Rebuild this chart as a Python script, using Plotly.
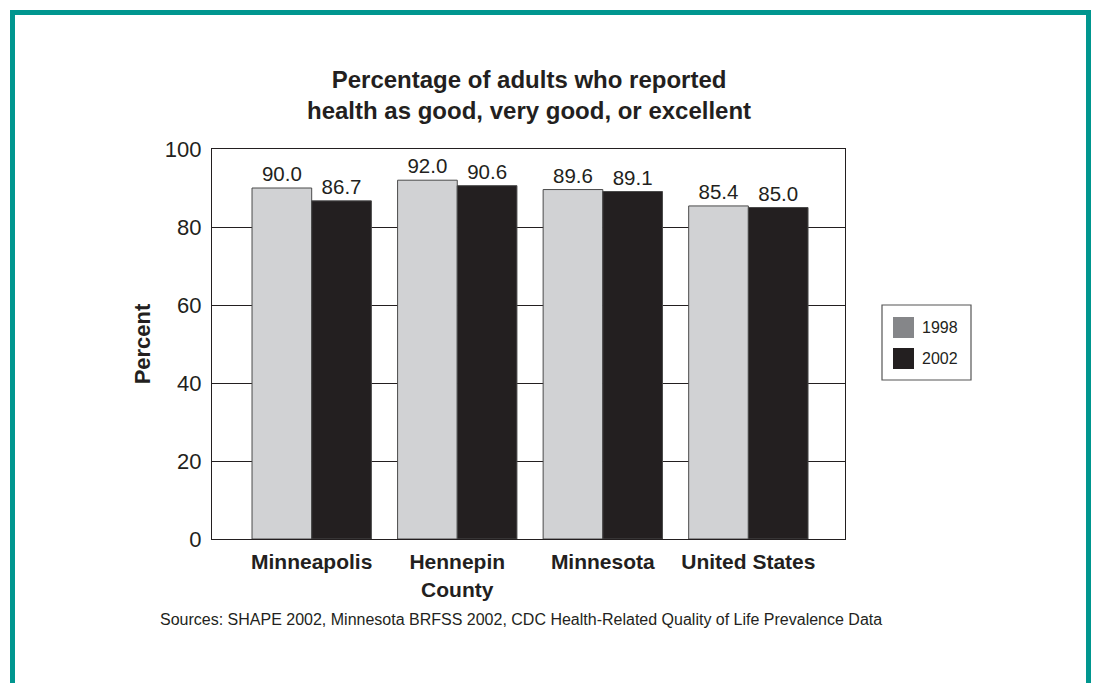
import plotly.graph_objects as go

categories = ["Minneapolis", "Hennepin<br>County", "Minnesota", "United States"]
years = ["1998", "2002"]
values_1998 = [90.0, 92.0, 89.6, 85.4]
values_2002 = [86.7, 90.6, 89.1, 85.0]
y_ticks = [0, 20, 40, 60, 80, 100]

bar_colors = {"1998": "#d1d2d4", "2002": "#231f20"}
legend_colors = {"1998": "#858689", "2002": "#231f20"}
FONT = "Liberation Sans"
INK = "#231f20"

W, H = 1099, 683
OFF = 8  # page body margin offset (screen = figure + OFF)
L, R, T, B = 212 - OFF, 845 - OFF, 149 - OFF, 539 - OFF
PW, PH = R - L, B - T


def px(x):
    return (x - OFF - L) / PW


def py(y):
    return (B - (y - OFF)) / PH


xpos = list(range(len(categories)))

fig = go.Figure()
for yr, vals in zip(years, [values_1998, values_2002]):
    fig.add_trace(go.Bar(
        x=xpos, y=vals, name=yr,
        marker=dict(color=bar_colors[yr], line=dict(color="#4a4a4a", width=1)),
        text=[f"{v:.1f}" for v in vals], textposition="outside",
        textfont=dict(size=20.5, color=INK, family=FONT),
        cliponaxis=False, showlegend=False,
    ))

shapes = [
    dict(type="rect", xref="paper", yref="paper",
         x0=px(12.5), x1=px(1088.5), y0=py(740), y1=py(12.5),
         line=dict(color="#00968f", width=5), layer="below"),
    dict(type="rect", xref="paper", yref="paper",
         x0=px(882), x1=px(971), y0=py(380), y1=py(305),
         line=dict(color="#555555", width=1.2)),
]
annotations = []
for i, yr in enumerate(years):
    ytop = 317 + i * 31
    shapes.append(dict(type="rect", xref="paper", yref="paper",
                       x0=px(893), x1=px(914), y0=py(ytop + 21), y1=py(ytop),
                       fillcolor=legend_colors[yr], line=dict(width=0)))
    annotations.append(dict(xref="paper", yref="paper", x=px(920), y=py(ytop + 10.5),
                            text=yr, showarrow=False, xanchor="left", yanchor="middle",
                            font=dict(size=16, color=INK, family=FONT)))

annotations.append(dict(xref="paper", yref="paper", x=px(521), y=py(619),
                        text="Sources: SHAPE 2002, Minnesota BRFSS 2002, CDC Health-Related Quality of Life Prevalence Data",
                        showarrow=False, xanchor="center", yanchor="middle",
                        font=dict(size=16, color=INK, family=FONT)))

annotations.append(dict(xref="paper", yref="paper", x=px(529), y=py(95),
                        text="<b>Percentage of adults who reported<br>health as good, very good, or excellent</b>",
                        showarrow=False, xanchor="center", yanchor="middle",
                        font=dict(size=24, color=INK, family=FONT)))

fig.update_layout(
    width=W, height=H,
    margin=dict(l=L, r=W - R, t=T, b=H - B, pad=0),
    paper_bgcolor="white", plot_bgcolor="white",
    barmode="group", bargap=0.18, bargroupgap=0,
    xaxis=dict(range=[-0.685, 3.664], tickvals=xpos, ticktext=[f"<b>{c}</b>" for c in categories],
               tickfont=dict(size=21, color=INK, family=FONT),
               showgrid=False, zeroline=False, showline=True, mirror=True,
               linecolor=INK, linewidth=1.3, ticks="", ticklabelstandoff=4),
    yaxis=dict(range=[0, 100], tickvals=y_ticks,
               tickfont=dict(size=22, color=INK, family=FONT),
               showgrid=True, gridcolor=INK, gridwidth=1,
               zeroline=False, showline=True, mirror=True,
               linecolor=INK, linewidth=1.3, ticks="", ticklabelstandoff=5,
               title=dict(text="<b>Percent</b>", standoff=8,
                          font=dict(size=22, color=INK, family=FONT))),
    shapes=shapes, annotations=annotations,
    font=dict(family=FONT),
)

fig.write_html("out.html")
